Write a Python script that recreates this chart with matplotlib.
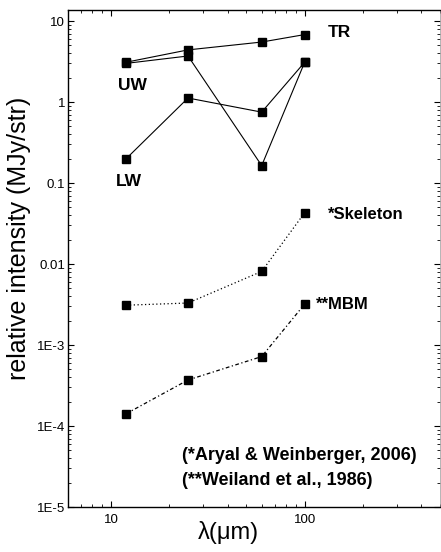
import matplotlib
matplotlib.use('Agg')
import matplotlib.pyplot as plt
from matplotlib.ticker import FixedLocator, FixedFormatter, LogLocator, NullFormatter

plt.rcParams['font.family'] = ['Liberation Sans', 'DejaVu Sans']

# wavelengths (micron) - IRAS bands
wavelength = [12, 25, 60, 100]

# intensities (MJy/str)
tr = [3.1, 4.4, 5.5, 6.8]
uw = [3.0, 3.7, 0.164, 3.1]
lw = [0.2, 1.12, 0.75, 3.1]
skeleton = [3.1e-3, 3.3e-3, 8.1e-3, 0.043]
mbm = [1.42e-4, 3.7e-4, 7.2e-4, 3.2e-3]

ytick_vals = [1e-5, 1e-4, 1e-3, 1e-2, 0.1, 1, 10]
ytick_labels = ['1E-5', '1E-4', '1E-3', '0.01', '0.1', '1', '10']
xtick_vals = [10, 100]
xtick_labels = ['10', '100']

fig = plt.figure(figsize=(4.41, 5.52), dpi=100)
ax = fig.add_axes([0.154, 0.0815, 0.844, 0.9005])

mk = dict(marker='s', markersize=6, color='black', markeredgecolor='black')
ax.plot(wavelength, tr, linestyle='-', linewidth=0.8, **mk)
ax.plot(wavelength, uw, linestyle='-', linewidth=0.8, **mk)
ax.plot(wavelength, lw, linestyle='-', linewidth=0.8, **mk)
ax.plot(wavelength, skeleton, linestyle=(0, (1, 2)), linewidth=0.9, **mk)
ax.plot(wavelength, mbm, linestyle=(0, (3, 2, 1, 2)), linewidth=0.9, **mk)

ax.set_xscale('log')
ax.set_yscale('log')
ax.set_xlim(6, 500)
ax.set_ylim(1e-5, 13.7)

ax.yaxis.set_major_locator(FixedLocator(ytick_vals))
ax.yaxis.set_major_formatter(FixedFormatter(ytick_labels))
ax.yaxis.set_minor_locator(LogLocator(base=10, subs=range(2, 10)))
ax.yaxis.set_minor_formatter(NullFormatter())
ax.xaxis.set_major_locator(FixedLocator(xtick_vals))
ax.xaxis.set_major_formatter(FixedFormatter(xtick_labels))
ax.xaxis.set_minor_locator(LogLocator(base=10, subs=range(2, 10)))
ax.xaxis.set_minor_formatter(NullFormatter())

ax.tick_params(which='both', direction='in', top=True, right=True, labelsize=9.5, pad=2)
ax.tick_params(axis='x', pad=5)
ax.tick_params(which='major', length=4, width=0.8)
ax.tick_params(which='minor', length=2, width=0.6)
for s in ax.spines.values():
    s.set_linewidth(1.0)
ax.spines['right'].set_linewidth(0.5)
ax.spines['right'].set_color('#999999')

ax.set_xlabel('λ(μm)', fontsize=17)
ax.xaxis.set_label_coords(0.43, -0.028)
ax.set_ylabel('relative intensity (MJy/str)', fontsize=18)
ax.yaxis.set_label_coords(-0.098, 0.54)

lab = dict(fontsize=12.5, fontweight='bold', va='center', ha='left')
ax.text(132, 7.3, 'TR', **lab)
ax.text(10.9, 1.58, 'UW', **lab)
ax.text(10.6, 0.103, 'LW', **lab)
ax.text(132, 0.0414, '*Skeleton', fontsize=12, fontweight='bold', va='center', ha='left')
ax.text(114, 3.2e-3, '**MBM', fontsize=12, fontweight='bold', va='center', ha='left')
cite = dict(fontsize=13, fontweight='bold', va='center', ha='left')
ax.text(23.2, 4.27e-5, '(*Aryal & Weinberger, 2006)', **cite)
ax.text(23.2, 2.1e-5, '(**Weiland et al., 1986)', **cite)

fig.savefig('out.png', dpi=100)
